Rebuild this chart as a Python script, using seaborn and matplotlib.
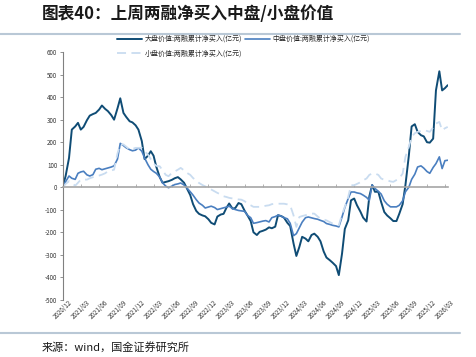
import pandas as pd
import matplotlib.pyplot as plt
from matplotlib.lines import Line2D
import seaborn as sns

# --- DATA (half-month steps from 2020/12) ---
dates = pd.date_range("2020-12-01", periods=128, freq="SMS")

large_value = [
    4, 50, 130, 256, 270, 286, 256, 268, 298, 318, 325, 330,
    345, 363, 348, 338, 320, 300, 350, 395, 330, 312, 293, 288,
    275, 256, 205, 125, 140, 160, 140, 90, 45, 20, 24, 27,
    33, 40, 45, 35, 20, -5, -35, -75, -105, -118, -125, -129,
    -142, -158, -165, -130, -121, -118, -92, -72, -95, -92, -70, -75,
    -105, -125, -150, -200, -212, -198, -193, -188, -178, -182, -175, -124,
    -128, -135, -158, -172, -250, -305, -265, -220, -228, -240, -212, -206,
    -220, -240, -285, -312, -324, -335, -350, -390, -295, -185, -147, -58,
    -50, -80, -108, -135, -152, -40, 10, -20, -20, -65, -110, -125,
    -138, -150, -150, -118, -75, 10, 140, 270, 280, 246, 231, 226,
    200, 198, 216, 430, 515, 430, 440, 453,
]

mid_value = [
    4, 25, 50, 40, 35, 62, 68, 71, 55, 50, 56, 80,
    84, 78, 82, 86, 90, 95, 125, 195, 185, 175, 167, 162,
    165, 175, 160, 130, 100, 80, 70, 62, 45, 20, 5, -2,
    5, 12, 15, 19, 10, -3, -20, -35, -55, -70, -80, -92,
    -88, -84, -90, -99, -95, -92, -88, -84, -95, -99, -103, -105,
    -107, -125, -135, -160, -157, -154, -150, -148, -154, -135, -130, -124,
    -128, -135, -140, -160, -215, -206, -180, -155, -135, -132, -136, -139,
    -142, -147, -152, -161, -165, -169, -172, -176, -132, -90, -50, -21,
    -21, -25, -28, -35, -45, -58, 10, -5, -18, -30, -60, -75,
    -87, -87, -87, -80, -60, -20, 0, 35, 58, 90, 95, 85,
    70, 62, 88, 105, 135, 83, 118, 120,
]

small_value = [
    0, 15, 27, 18, 7, 20, 34, 34, 34, 40, 45, 49,
    52, 56, 62, 71, 75, 78, 150, 190, 190, 180, 167, 170,
    175, 175, 175, 160, 145, 125, 105, 95, 93, 75, 55, 49,
    64, 70, 78, 86, 75, 64, 55, 41, 30, 19, 10, 4,
    -3, -10, -18, -25, -32, -40, -43, -47, -50, -52, -54, -55,
    -62, -73, -80, -87, -87, -87, -85, -82, -80, -75, -73, -73,
    -73, -73, -76, -80, -125, -176, -132, -128, -124, -120, -117, -117,
    -130, -139, -143, -147, -155, -161, -165, -169, -120, -87, -43, 9,
    9, 15, 22, 31, 39, 55, 61, 61, 55, 39, 33, 31,
    26, 24, 32, 39, 61, 135, 179, 224, 240, 246, 250, 253,
    250, 246, 265, 283, 290, 253, 262, 268,
]

tick_labels = [
    "2020/12", "2021/03", "2021/06", "2021/09", "2021/12", "2022/03",
    "2022/06", "2022/09", "2022/12", "2023/03", "2023/06", "2023/09",
    "2023/12", "2024/03", "2024/06", "2024/09", "2024/12", "2025/03",
    "2025/06", "2025/09", "2025/12", "2026/03",
]

series_names = [
    "大盘价值:两融累计净买入(亿元)",
    "中盘价值:两融累计净买入(亿元)",
    "小盘价值:两融累计净买入(亿元)",
]

# --- STYLE ---
sns.set_theme(style="white")
plt.rcParams['font.family'] = ['Noto Sans CJK SC', 'DejaVu Sans']
plt.rcParams['axes.unicode_minus'] = False

fig = plt.figure(figsize=(4.76, 3.57), dpi=100)
ax = fig.add_axes([0.132, 0.160, 0.809, 0.694])

sns.lineplot(x=dates, y=large_value, ax=ax, color="#0f4c75", lw=1.4, label=series_names[0])
sns.lineplot(x=dates, y=mid_value, ax=ax, color="#4a7fc0", lw=1.2, label=series_names[1])
sns.lineplot(x=dates, y=small_value, ax=ax, color="#c9dcf0", lw=1.3, label=series_names[2])
ax.lines[2].set_linestyle((0, (5, 3)))

# axes
ax.set_ylim(-500, 600)
ax.set_yticks(range(-500, 601, 100))
ax.set_xlim(pd.Timestamp("2020-12-01"), pd.Timestamp("2026-03-16"))
tick_pos = pd.to_datetime([t.replace("/", "-") + "-01" for t in tick_labels])
ax.set_xticks(tick_pos)
ax.set_xticklabels(tick_labels)

for side in ["top", "right"]:
    ax.spines[side].set_visible(False)
ax.spines["left"].set_color("#808080")
ax.spines["left"].set_linewidth(0.8)
ax.spines["bottom"].set_position(("data", 0))
ax.spines["bottom"].set_color("#a6a6a6")
ax.spines["bottom"].set_linewidth(1.2)

ax.tick_params(axis="y", left=True, direction="out", length=2, width=0.6,
               color="#808080", labelsize=4.5, labelcolor="#333333", pad=2)
ax.tick_params(axis="x", bottom=True, direction="in", length=2.5, width=0.6,
               color="#a6a6a6", labelsize=4.5, labelcolor="#333333", pad=80)
for lbl in ax.get_xticklabels():
    lbl.set_rotation(45)
    lbl.set_ha("center")
ax.set_xlabel("")
ax.set_ylabel("")

# legend: row 1 large + mid, row 2 small
handles, labels = ax.get_legend_handles_labels()
order = [0, 2, 1]
ax.legend([handles[i] for i in order], [labels[i] for i in order],
          ncol=2, frameon=False, fontsize=5, handlelength=3.6,
          handletextpad=0.4, columnspacing=0.4, labelspacing=0.9,
          borderpad=0, borderaxespad=0,
          loc="upper left", bbox_to_anchor=(0.245, 0.902),
          bbox_transform=fig.transFigure)

# title, rules, source
fig.text(0.088, 0.962, "图表40：上周两融净买入中盘/小盘价值", fontsize=12,
         fontweight="bold", color="#1a1a1a", va="center", ha="left")
fig.add_artist(Line2D([0, 0.967], [0.905, 0.905], transform=fig.transFigure,
                      color="#b9c8d6", lw=1.5))
fig.add_artist(Line2D([0, 0.967], [0.067, 0.067], transform=fig.transFigure,
                      color="#b9c8d6", lw=1.5))
fig.text(0.088, 0.028, "来源：wind，国金证券研究所", fontsize=8,
         color="#1a1a1a", va="center", ha="left")

fig.savefig("out.png", dpi=100)
